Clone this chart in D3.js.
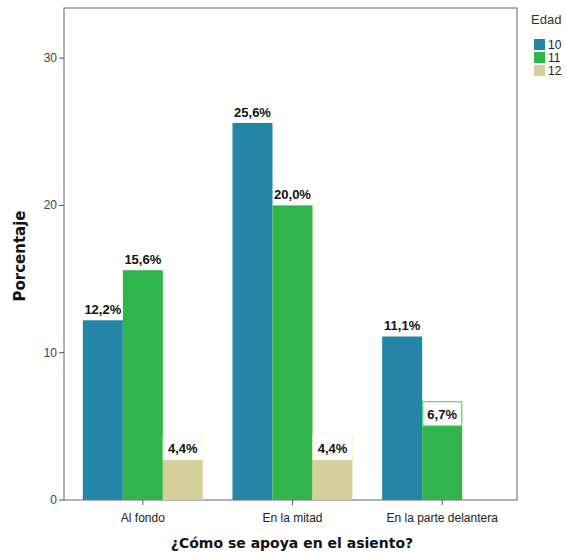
<!DOCTYPE html>
<html><head><meta charset="utf-8">
<script src="https://cdn.jsdelivr.net/npm/d3@7"></script>
<style>body{margin:0;background:#fff}svg{display:block;font-family:"Liberation Sans",Arial,sans-serif}</style>
</head><body><svg id="c" width="566" height="554"></svg>
<script>
const categories = ["Al fondo", "En la mitad", "En la parte delantera"];
const seriesNames = ["10", "11", "12"];
const values10 = [12.2, 25.6, 11.1];
const values11 = [15.6, 20.0, 6.7];
const values12 = [4.4, 4.4, null];
const yTicks = [0, 10, 20, 30];
const colors = ["#2585a9", "#30b44b", "#d5d09b"];

const series = [values10, values11, values12];
const svg = d3.select("#c");
const L = 64, R = 517, T = 8, B = 500;

const y = d3.scaleLinear().domain([0, 33.4]).range([B, T]);
const x0 = d3.scaleBand().domain(categories).range([68, 517]).padding(0);
const x1 = d3.scaleBand().domain(seriesNames).range([-60, 60]).padding(0);

// frame
svg.append("rect").attr("x", L).attr("y", T).attr("width", R - L).attr("height", B - T)
  .attr("fill", "none").attr("stroke", "#666").attr("stroke-width", 1);

// bars
categories.forEach((cat, ci) => {
  series.forEach((vals, si) => {
    const v = vals[ci];
    if (v == null) return;
    const cx = x0(cat) + x0.bandwidth() / 2;
    const bx = cx + x1(seriesNames[si]);
    svg.append("rect").attr("x", bx).attr("y", y(v)).attr("width", x1.bandwidth())
      .attr("height", B - y(v)).attr("fill", colors[si]);
  });
});

// labels
categories.forEach((cat, ci) => {
  series.forEach((vals, si) => {
    const v = vals[ci];
    if (v == null) return;
    const cx = x0(cat) + x0.bandwidth() / 2;
    const bx = cx + x1(seriesNames[si]);
    const inside = v < 8;
    const bh = inside ? 25 : 22;
    const by = inside ? y(v) : y(v) - bh;
    svg.append("rect").attr("x", bx + 0.5).attr("y", by + 0.5).attr("width", x1.bandwidth() - 1)
      .attr("height", bh - 1).attr("fill", "#fff")
      .attr("stroke", inside ? d3.color(colors[si]).brighter(0.8) : "none").attr("stroke-width", 1);
    svg.append("text").attr("x", bx + x1.bandwidth() / 2).attr("y", by + bh / 2 + 5)
      .attr("text-anchor", "middle").attr("font-size", 13).attr("font-weight", "bold")
      .attr("fill", "#111")
      .text(v.toFixed(1).replace(".", ",") + "%");
  });
});

// y axis ticks
const ya = svg.append("g");
yTicks.forEach(t => {
  ya.append("line").attr("x1", L - 5).attr("x2", L).attr("y1", y(t)).attr("y2", y(t)).attr("stroke", "#555");
  ya.append("text").attr("x", L - 7).attr("y", y(t) + 4).attr("text-anchor", "end")
    .attr("font-size", 12).attr("fill", "#444").text(t);
});

// x axis ticks
categories.forEach(cat => {
  const cx = x0(cat) + x0.bandwidth() / 2;
  svg.append("line").attr("x1", cx).attr("x2", cx).attr("y1", B).attr("y2", B + 5).attr("stroke", "#555");
  svg.append("text").attr("x", cx).attr("y", B + 22).attr("text-anchor", "middle")
    .attr("font-size", 12).attr("fill", "#222").text(cat);
});

// axis titles
svg.append("text").attr("x", 292).attr("y", 548).attr("text-anchor", "middle")
  .attr("font-size", 14).attr("font-weight", "bold").attr("fill", "#111")
  .attr("font-family", "DejaVu Sans")
  .text("¿Cómo se apoya en el asiento?");
svg.append("text").attr("transform", "translate(25,256) rotate(-90)").attr("text-anchor", "middle")
  .attr("font-size", 15).attr("font-weight", "bold").attr("fill", "#111")
  .attr("font-family", "DejaVu Sans").text("Porcentaje");

// legend
svg.append("text").attr("x", 531).attr("y", 24).attr("font-size", 13).attr("fill", "#333").text("Edad");
seriesNames.forEach((s, i) => {
  svg.append("rect").attr("x", 534).attr("y", 39 + i * 13).attr("width", 11).attr("height", 11).attr("fill", colors[i]);
  svg.append("text").attr("x", 548).attr("y", 49 + i * 13).attr("font-size", 12).attr("fill", "#222").text(s);
});
</script></body></html>
